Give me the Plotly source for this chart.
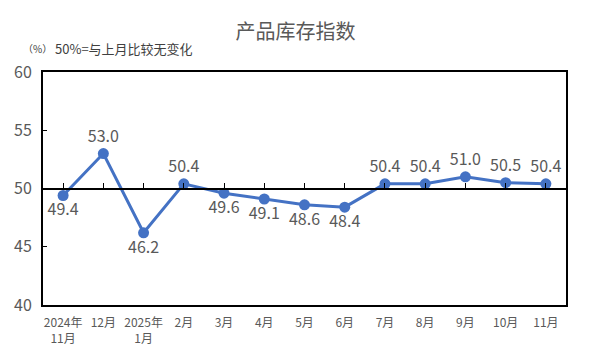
import plotly.graph_objects as go

categories = ["2024年<br>11月", "12月", "2025年<br>1月", "2月", "3月", "4月", "5月",
              "6月", "7月", "8月", "9月", "10月", "11月"]
values = [49.4, 53.0, 46.2, 50.4, 49.6, 49.1, 48.6, 48.4, 50.4, 50.4, 51.0, 50.5, 50.4]
label_above = [False, True, False, True, False, False, False, False, True, True, True, True, True]
y_ticks = [40, 45, 50, 55, 60]

FONT = "Noto Sans CJK SC"
GRAY = "#595959"
n = len(categories)
xs = list(range(n))

fig = go.Figure()
fig.add_trace(go.Scatter(
    x=xs, y=values, mode="lines+markers+text",
    line=dict(color="#4472C4", width=3),
    marker=dict(color="#4472C4", size=11),
    text=[f"{v:.1f}" for v in values],
    textposition=["top center" if a else "bottom center" for a in label_above],
    textfont=dict(family=FONT, size=16, color=GRAY),
    cliponaxis=False, showlegend=False, xaxis="x", yaxis="y",
))
# invisible trace to activate the secondary x axis (line at 50)
fig.add_trace(go.Scatter(x=[xs[0]], y=[50], mode="markers", marker=dict(opacity=0),
                         showlegend=False, hoverinfo="skip", xaxis="x2", yaxis="y"))

xr = [-0.5, n - 0.5]
fig.update_layout(
    width=591, height=354,
    margin=dict(l=43, r=25, t=72, b=49),
    paper_bgcolor="white", plot_bgcolor="white",
    font=dict(family=FONT, color=GRAY),
    title=dict(text="产品库存指数", x=0.5, xanchor="center", y=0.91, yanchor="middle",
               font=dict(family=FONT, size=20, color=GRAY)),
    xaxis=dict(range=xr, tickmode="array", tickvals=xs, ticktext=categories,
               showline=True, linecolor="black", linewidth=2, mirror=True,
               showgrid=False, zeroline=False, ticks="", ticklabelstandoff=6,
               automargin=False,
               tickfont=dict(family=FONT, size=12, color=GRAY)),
    xaxis2=dict(range=xr, overlaying="x", anchor="free", position=0.5, side="bottom",
                showline=True, linecolor="black", linewidth=2,
                tickmode="array", tickvals=xs, tickson="boundaries",
                ticks="inside", ticklen=5, tickwidth=1, tickcolor="black",
                showticklabels=False, showgrid=False, zeroline=False, automargin=False),
    yaxis=dict(range=[40, 60], tickmode="array", tickvals=y_ticks,
               showline=True, linecolor="black", linewidth=2, mirror=True,
               showgrid=False, zeroline=False, ticks="inside", ticklen=4,
               tickcolor="black", ticklabelstandoff=6, automargin=False,
               tickfont=dict(family=FONT, size=16, color=GRAY)),
    annotations=[
        dict(text="（%）", xref="paper", yref="paper",
             x=-0.042, y=1.1, xanchor="left", yanchor="middle", showarrow=False,
             font=dict(family=FONT, size=10, color="#404040")),
        dict(text="50%=与上月比较无变化", xref="paper", yref="paper",
             x=0.019, y=1.1, xanchor="left", yanchor="middle", showarrow=False,
             font=dict(family=FONT, size=13, color="#404040")),
    ],
)

fig.write_html("out.html")
